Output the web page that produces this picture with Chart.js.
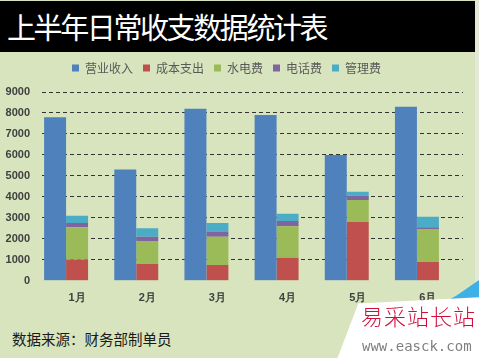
<!DOCTYPE html>
<html>
<head>
<meta charset="utf-8">
<script src="https://cdn.jsdelivr.net/npm/chart.js@4.4.1/dist/chart.umd.min.js"></script>
<style>
  body { margin: 0; width: 479px; height: 358px; overflow: hidden; background: #d7e4bd; position: relative; font-family: "Noto Sans CJK SC", sans-serif; }
  #strip { position: absolute; left: 475px; top: 0; width: 4px; height: 358px; background: #e3e9d6; }
  #title { position: absolute; left: 0; top: 1px; width: 475px; height: 51px; background: #000; color: #fff; font-size: 29px; letter-spacing: -2.4px; line-height: 51px; padding-left: 7px; box-sizing: border-box; white-space: nowrap; }
  #box { position: absolute; left: 0; top: 52px; width: 479px; height: 256px; }
  #foot { position: absolute; left: 12px; top: 330px; font-size: 14.5px; line-height: 18px; color: #1a1a1a; white-space: nowrap; }
  #wmBlue { position: absolute; left: 330px; top: 280px; width: 149px; height: 78px; background: #3fb0e6; clip-path: polygon(85% 20%, 100% 0%, 100% 30%, 20% 100%, 8% 100%); }
  #wmPaper { position: absolute; left: 330px; top: 280px; width: 149px; height: 78px; background: #fff; clip-path: polygon(19% 30%, 100% 22%, 100% 100%, 5% 100%); }
  #wmText1 { position: absolute; left: 361px; top: 300px; font-size: 22px; line-height: 30px; letter-spacing: 1px; color: #d0103a; font-weight: 300; white-space: nowrap; }
  #wmText2 { position: absolute; left: 362px; top: 337px; font-family: "DejaVu Sans Mono", monospace; font-size: 14px; line-height: 18px; color: #808080; white-space: nowrap; }
</style>
</head>
<body>
<div id="strip"></div>
<div id="title">上半年日常收支数据统计表</div>
<div id="box"><canvas id="myChart" width="479" height="256"></canvas></div>
<div id="foot">数据来源：财务部制单员</div>
<div id="wmBlue"></div>
<div id="wmPaper"></div>
<div id="wmText1">易采站长站</div>
<div id="wmText2">www.easck.com</div>
<script>
// Chart data
const months = ["1月", "2月", "3月", "4月", "5月", "6月"];
const revenue = [7800, 5300, 8200, 7900, 6000, 8300];
const cost = [1000, 800, 750, 1100, 2800, 900];
const utilities = [1550, 1100, 1350, 1500, 1050, 1550];
const phone = [200, 200, 250, 250, 200, 100];
const mgmt = [350, 400, 400, 350, 200, 500];
const yTicks = [0, 1000, 2000, 3000, 4000, 5000, 6000, 7000, 8000, 9000];

// legend tweaks: a little to the left, and some extra room under it
const legendTweak = {
  id: "legendTweak",
  beforeLayout(chart) {
    const lg = chart.legend;
    if (lg && !lg._tweaked) {
      const fit = lg.fit;
      lg.fit = function () {
        fit.call(this);
        this.height += 8;
      };
      lg._tweaked = true;
    }
  },
  afterLayout(chart) {
    chart.legend.left -= 5;
    chart.legend.right -= 5;
  },
};

const ctx = document.getElementById("myChart").getContext("2d");
const myChart = new Chart(ctx, {
  type: "bar",
  data: {
    labels: months,
    datasets: [
      { label: "营业收入", data: revenue, backgroundColor: "#4f81bd", stack: "a" },
      { label: "成本支出", data: cost, backgroundColor: "#c0504d", stack: "b" },
      { label: "水电费", data: utilities, backgroundColor: "#9bbb59", stack: "b" },
      { label: "电话费", data: phone, backgroundColor: "#8064a2", stack: "b" },
      { label: "管理费", data: mgmt, backgroundColor: "#4bacc6", stack: "b" },
      // empty slot, keeps the bars to the left of each label
      { label: "", data: months.map(() => null), backgroundColor: "transparent", stack: "c" },
    ],
  },
  plugins: [legendTweak],
  options: {
    responsive: false,
    animation: false,
    maintainAspectRatio: false,
    layout: { padding: { left: 0, right: 16, top: 0, bottom: 0 } },
    datasets: { bar: { barPercentage: 1, categoryPercentage: 0.94 } },
    plugins: {
      legend: {
        position: "top",
        labels: {
          boxWidth: 7,
          boxHeight: 7,
          padding: 10,
          color: "#595959",
          font: { family: "Noto Sans CJK SC", size: 12 },
          filter: (item) => item.text !== "",
        },
      },
      tooltip: { enabled: false },
    },
    scales: {
      x: {
        stacked: true,
        grid: { display: false },
        border: { display: false },
        ticks: { color: "#404040", padding: 3, font: { family: "Liberation Sans", size: 11, weight: "bold" } },
      },
      y: {
        stacked: true,
        min: 0,
        max: 9000,
        afterBuildTicks: (scale) => { scale.ticks = yTicks.map((v) => ({ value: v })); },
        afterFit: (scale) => { scale.width = 42; },
        grid: {
          drawTicks: false,
          color: (c) => (c.tick && c.tick.value === 0 ? "transparent" : "#333333"),
          lineWidth: 1,
        },
        border: { display: false, dash: [4, 3] },
        ticks: {
          color: "#404040",
          padding: 12,
          font: { family: "Liberation Sans", size: 11, weight: "bold" },
          callback: (v) => String(v),
        },
      },
    },
  },
});
</script>
</body>
</html>
